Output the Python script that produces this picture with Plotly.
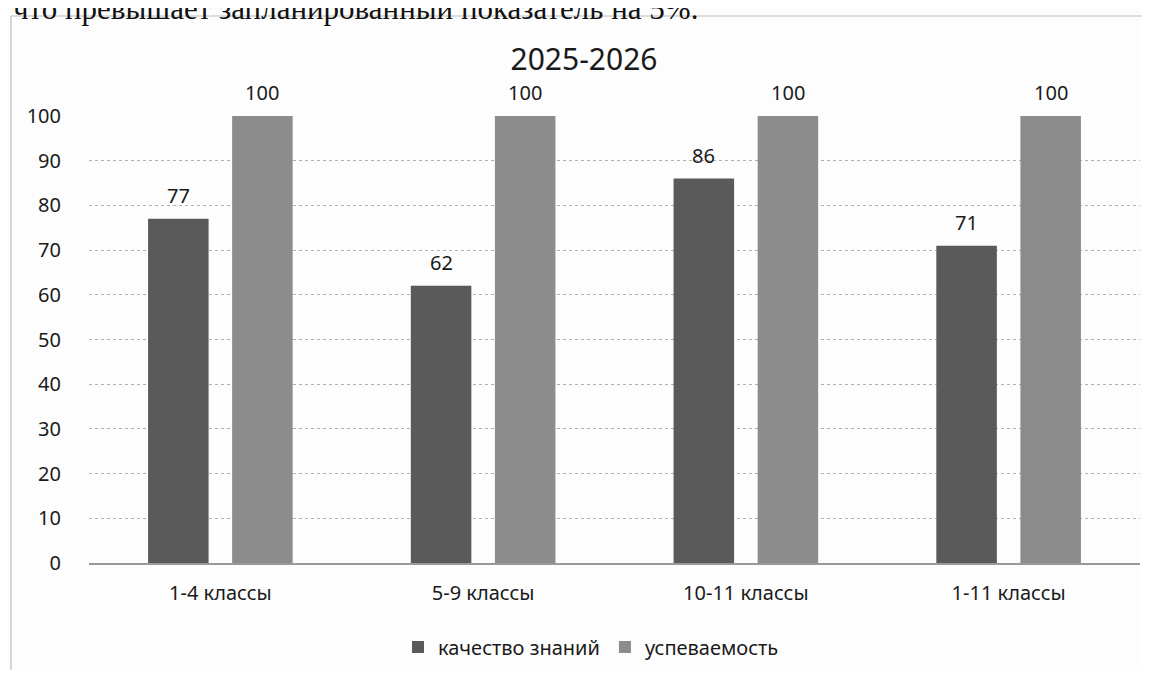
import plotly.graph_objects as go

categories = ["1-4 классы", "5-9 классы", "10-11 классы", "1-11 классы"]
quality = [77, 62, 86, 71]
progress = [100, 100, 100, 100]
series_names = ["качество знаний", "успеваемость"]
y_ticks = [0, 10, 20, 30, 40, 50, 60, 70, 80, 90, 100]
title_text = "2025-2026"
page_text = "что превышает запланированный показатель на 5%."

# page body has an 8px margin; the figure covers reference pixels 8..1142 x 8..670
OFF = 8
W, H = 1142 - OFF, 670 - OFF
PLOT_L, PLOT_R, PLOT_T, PLOT_B = 89, 1140, 116, 563  # reference pixels
ML, MR = PLOT_L - OFF, (1142 - PLOT_R)
MT, MB = PLOT_T - OFF, 670 - PLOT_B
PW, PH = PLOT_R - PLOT_L, PLOT_B - PLOT_T

def px_x(p):
    return (p - PLOT_L) / PW

def px_y(p):
    return (PLOT_B - p) / PH

font_main = "Noto Sans, Open Sans, sans-serif"
txt = "#1a1a1a"
BARGAP, GROUPGAP = 0.36, 0.28

fig = go.Figure()
fig.add_trace(go.Bar(
    x=categories, y=quality, name=series_names[0],
    marker=dict(color="#5a5a5a", line=dict(width=0)),
))
fig.add_trace(go.Bar(
    x=categories, y=progress, name=series_names[1],
    marker=dict(color="#8c8c8c", line=dict(width=0)),
))

# value labels above bars
slot_px = PW / len(categories) * (1 - BARGAP) / 2
for idx, vals in enumerate([quality, progress]):
    shift = (idx - 0.5) * slot_px
    for c, v in zip(categories, vals):
        fig.add_annotation(x=c, y=v, xref="x", yref="y", text=str(v), showarrow=False,
                           xshift=shift, yanchor="bottom", yshift=8,
                           font=dict(size=20, color=txt, family=font_main))

fig.update_layout(
    width=W, height=H,
    margin=dict(l=ML, r=MR, t=MT, b=MB),
    paper_bgcolor="#fdfdfd", plot_bgcolor="#fdfdfd",
    barmode="group", bargap=BARGAP, bargroupgap=GROUPGAP,
    font=dict(family=font_main, color=txt),
    title=dict(text=title_text, x=(584 - OFF) / W, xanchor="center",
               y=1 - (59 - OFF) / H, yanchor="middle",
               font=dict(size=30, color=txt, family=font_main)),
    legend=dict(orientation="h", x=px_x(591), xanchor="center",
                y=px_y(647), yanchor="middle", font=dict(size=20, color=txt),
                itemwidth=30, bgcolor="rgba(0,0,0,0)", traceorder="normal"),
    showlegend=True,
)
fig.update_xaxes(showgrid=False, showline=True, linecolor="#999999", linewidth=1.5,
                 tickfont=dict(size=20, color=txt), ticks="", ticklabelstandoff=11)
fig.update_yaxes(range=[0, 100], tickvals=y_ticks, showgrid=True, gridcolor="#b0b0b0", gridwidth=1,
                 griddash="dot", zeroline=False, showline=False,
                 tickfont=dict(size=20, color=txt), ticks="", ticklabelstandoff=27)

# outer chart border of the scanned figure (left and top edges)
border = dict(color="#bdbdbd", width=1.2)
fig.add_shape(type="line", xref="paper", yref="paper",
              x0=px_x(11), x1=px_x(11), y0=px_y(680), y1=px_y(16), line=border, layer="below")
fig.add_shape(type="line", xref="paper", yref="paper",
              x0=px_x(11), x1=px_x(1150), y0=px_y(16), y1=px_y(16), line=border, layer="below")

fig.add_annotation(text=page_text, xref="paper", yref="paper", x=px_x(11), y=px_y(28),
                   xanchor="left", yanchor="bottom", showarrow=False,
                   font=dict(family="Liberation Serif, Times New Roman, serif", size=31, color="#111111"))

fig.write_html("out.html")
